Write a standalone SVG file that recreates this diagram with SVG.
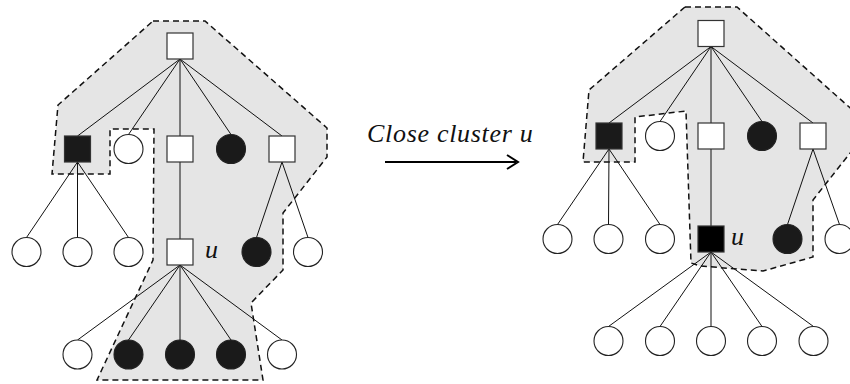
<svg xmlns="http://www.w3.org/2000/svg" width="850" height="384" viewBox="0 0 850 384">
<style>
.cl{fill:#e5e5e5;stroke:#111;stroke-width:1.5;stroke-dasharray:6,4}
.e{stroke:#111;stroke-width:1;fill:none}
.sq{fill:#fff;stroke:#333;stroke-width:1.2}
.sqb{fill:#1a1a1a;stroke:#333;stroke-width:1.2}
.ci{fill:#fff;stroke:#222;stroke-width:1.1}
.cb{fill:#1a1a1a;stroke:#222;stroke-width:1.1}
.lb{font-family:"Liberation Serif","Times New Roman",serif;font-style:italic;fill:#111}
</style>
<rect width="850" height="384" fill="#fff"/>
<g id="clusters">
<polygon class="cl" points="153,21 205,21 327,128 327,157 283,213 283,270 251,303 263,380 97,380 153,260 154,129 110,129 110,174 52,174 58,105"/>
<polygon class="cl" points="685,7 737,7 858,115 858,143 813,200 813,257 763,271 700,266 691,263 686,111 635,117 635,162 583,162 589,90"/>
</g>
<g id="connectors">
<path class="e" d="M180,59 L77.5,136 M180,59 L128.5,134.5 M180,59 L180,136 M180,59 L231,134.5 M180,59 L282,136 M180,162 L180,239 M77.5,162 L26.5,237.5 M77.5,162 L77.5,237.5 M77.5,162 L128.5,237.5 M282,162 L256.5,237.5 M282,162 L308,237.5 M180,265 L77.5,340 M180,265 L128.5,340 M180,265 L180,340 M180,265 L231,340 M180,265 L282,340"/>
<path class="e" d="M711,46.5 L609,123 M711,46.5 L660,121.5 M711,46.5 L711,123 M711,46.5 L762,121.5 M711,46.5 L813,123 M711,149 L711,226 M609,149 L557.5,224.5 M609,149 L608.5,224.5 M609,149 L660,224.5 M813,149 L787.5,224.5 M813,149 L839.5,224.5 M711,252 L608.5,326.5 M711,252 L660,326.5 M711,252 L711,326.5 M711,252 L762,326.5 M711,252 L813.5,326.5"/>
<line x1="385" y1="162" x2="516" y2="162" stroke="#000" stroke-width="2"/>
<polyline points="507,155 518,162 507,169" fill="none" stroke="#000" stroke-width="2"/>
</g>
<g id="left-root"><rect class="sq" x="167" y="33" width="26" height="26"/></g>
<g id="left-a"><rect class="sqb" x="64.5" y="136" width="26" height="26"/></g>
<g id="left-b"><circle class="ci" cx="128.5" cy="149" r="14.5"/></g>
<g id="left-c"><rect class="sq" x="167" y="136" width="26" height="26"/></g>
<g id="left-d"><circle class="cb" cx="231" cy="149" r="14.5"/></g>
<g id="left-e"><rect class="sq" x="269" y="136" width="26" height="26"/></g>
<g id="left-a1"><circle class="ci" cx="26.5" cy="252" r="14.5"/></g>
<g id="left-a2"><circle class="ci" cx="77.5" cy="252" r="14.5"/></g>
<g id="left-a3"><circle class="ci" cx="128.5" cy="252" r="14.5"/></g>
<g id="left-u"><rect class="sq" x="167" y="239" width="26" height="26"/><text class="lb" x="205" y="258" font-size="26">u</text></g>
<g id="left-e1"><circle class="cb" cx="256.5" cy="252" r="14.5"/></g>
<g id="left-e2"><circle class="ci" cx="308" cy="252" r="14.5"/></g>
<g id="left-u1"><circle class="ci" cx="77.5" cy="354.5" r="14.5"/></g>
<g id="left-u2"><circle class="cb" cx="128.5" cy="354.5" r="14.5"/></g>
<g id="left-u3"><circle class="cb" cx="180" cy="354.5" r="14.5"/></g>
<g id="left-u4"><circle class="cb" cx="231" cy="354.5" r="14.5"/></g>
<g id="left-u5"><circle class="ci" cx="282" cy="354.5" r="14.5"/></g>
<g id="arrow-label"><text class="lb" x="367" y="142" font-size="26" letter-spacing="0.7">Close cluster u</text></g>
<g id="right-root"><rect class="sq" x="698" y="20.5" width="26" height="26"/></g>
<g id="right-a"><rect class="sqb" x="596" y="123" width="26" height="26"/></g>
<g id="right-b"><circle class="ci" cx="660" cy="136" r="14.5"/></g>
<g id="right-c"><rect class="sq" x="698" y="123" width="26" height="26"/></g>
<g id="right-d"><circle class="cb" cx="762" cy="136" r="14.5"/></g>
<g id="right-e"><rect class="sq" x="800" y="123" width="26" height="26"/></g>
<g id="right-a1"><circle class="ci" cx="557.5" cy="239" r="14.5"/></g>
<g id="right-a2"><circle class="ci" cx="608.5" cy="239" r="14.5"/></g>
<g id="right-a3"><circle class="ci" cx="660" cy="239" r="14.5"/></g>
<g id="right-u"><rect x="698" y="226" width="26" height="26" fill="#000" stroke="#333" stroke-width="1.2"/><text class="lb" x="731" y="245" font-size="26">u</text></g>
<g id="right-e1"><circle class="cb" cx="787.5" cy="239" r="14.5"/></g>
<g id="right-e2"><circle class="ci" cx="839.5" cy="239" r="14.5"/></g>
<g id="right-u1"><circle class="ci" cx="608.5" cy="341" r="14.5"/></g>
<g id="right-u2"><circle class="ci" cx="660" cy="341" r="14.5"/></g>
<g id="right-u3"><circle class="ci" cx="711" cy="341" r="14.5"/></g>
<g id="right-u4"><circle class="ci" cx="762" cy="341" r="14.5"/></g>
<g id="right-u5"><circle class="ci" cx="813.5" cy="341" r="14.5"/></g>
</svg>
